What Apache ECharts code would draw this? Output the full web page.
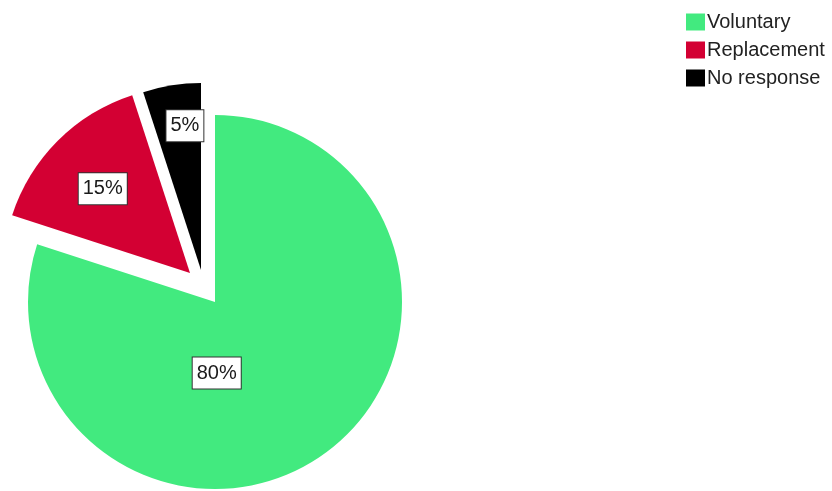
<!DOCTYPE html>
<html>
<head>
<meta charset="utf-8">
<script src="https://cdn.jsdelivr.net/npm/echarts@6/dist/echarts.min.js"></script>
<style>
  html, body { margin: 0; padding: 0; background: #fff; }
  #chart { width: 832px; height: 491px; }
</style>
</head>
<body>
<div id="chart"></div>
<script>
// Survey response categories and their shares (%)
const categories = ['Voluntary', 'Replacement', 'No response'];
const values = [80, 15, 5];
const colors = ['#42EA7F', '#D30033', '#000000'];

// Each slice gets its own pie series so the smaller slices can be pulled out
const sliceCenters = [[215, 302], [190, 273], [201, 270]];
const labelNudges = [[-55, -7], [-19, -16], [-1, -49]];
const RADIUS = 187;

const chart = echarts.init(document.getElementById('chart'), null, { renderer: 'canvas' });

const series = categories.map((_, i) => ({
  type: 'pie',
  center: sliceCenters[i],
  radius: RADIUS,
  startAngle: 90,
  clockwise: true,
  avoidLabelOverlap: false,
  emphasis: { disabled: true },
  silent: true,
  animation: false,
  labelLine: { show: false },
  label: {
    show: true,
    position: 'inside',
    formatter: '{d}%',
    fontFamily: 'Liberation Sans, Arial, sans-serif',
    fontSize: 20,
    color: '#1a1a1a',
    backgroundColor: '#fff',
    borderColor: '#333',
    borderWidth: 1,
    padding: [6, 4, 5, 4]
  },
  labelLayout: function () {
    return { dx: labelNudges[i][0], dy: labelNudges[i][1] };
  },
  data: categories.map((name, j) => ({
    name: name,
    value: values[j],
    itemStyle: { color: j === i ? colors[j] : 'rgba(0,0,0,0)' },
    label: { show: j === i }
  }))
}));

chart.setOption({
  backgroundColor: '#fff',
  legend: {
    orient: 'vertical',
    left: 681,
    top: 7,
    icon: 'rect',
    itemWidth: 19,
    itemHeight: 17,
    itemGap: 8,
    selectedMode: false,
    textStyle: {
      fontFamily: 'Liberation Sans, Arial, sans-serif',
      fontSize: 20,
      color: '#222',
      padding: [2, 0, 0, -3]
    },
    data: categories.map((name, j) => ({ name: name, itemStyle: { color: colors[j] } }))
  },
  series: series
});
</script>
</body>
</html>
